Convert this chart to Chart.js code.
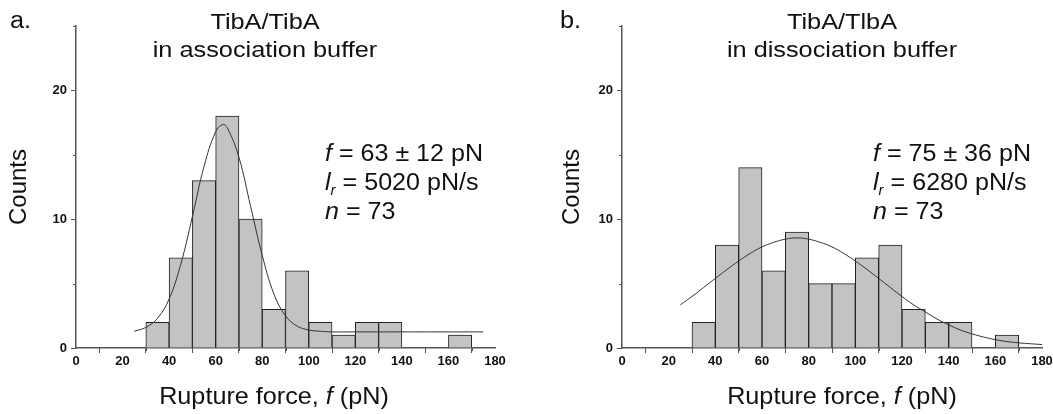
<!DOCTYPE html>
<html>
<head>
<meta charset="utf-8">
<script src="https://cdn.jsdelivr.net/npm/chart.js@4.4.1/dist/chart.umd.min.js"></script>
<style>
  html, body { margin: 0; padding: 0; background: #fff; }
  #wrap { position: relative; width: 1053px; height: 414px; overflow: hidden; }
  .panel { position: absolute; top: 0; }
  #panelA { left: 0; }
  #panelB { left: 530px; }
</style>
</head>
<body>
<div id="wrap">
  <div class="panel" id="panelA"><canvas id="chartA" width="530" height="414"></canvas></div>
  <div class="panel" id="panelB"><canvas id="chartB" width="523" height="414"></canvas></div>
</div>
<script>
// histogram bins, 10 pN wide
const binCenters = [35, 45, 55, 65, 75, 85, 95, 105, 115, 125, 135, 145, 155, 165];
const countsA = [2, 7, 13, 18, 10, 3, 6, 2, 1, 2, 2, 0, 0, 1];
const countsB = [2, 8, 14, 6, 9, 5, 5, 7, 8, 3, 2, 2, 0, 1];

// gaussian fit curves
const fitForceA = [25, 30, 35, 40, 45, 50, 55, 60, 63, 65, 70, 75, 80, 85, 90, 95, 100, 105, 110, 120, 130, 140, 150, 160, 175];
const fitCountsA = [1.3, 1.6, 2.3, 3.8, 6.5, 10.2, 14.1, 16.8, 17.35, 17.1, 14.8, 11.0, 7.2, 4.2, 2.5, 1.7, 1.4, 1.3, 1.25, 1.25, 1.25, 1.25, 1.25, 1.25, 1.25];
const fitForceB = [25, 30, 35, 40, 45, 50, 55, 60, 65, 70, 75, 80, 85, 90, 95, 100, 105, 110, 115, 120, 125, 130, 135, 140, 145, 150, 155, 160, 165, 170, 175, 180];
const fitCountsB = [3.35, 4.0, 4.7, 5.4, 6.1, 6.75, 7.35, 7.85, 8.2, 8.45, 8.55, 8.45, 8.2, 7.85, 7.35, 6.75, 6.1, 5.4, 4.7, 4.0, 3.35, 2.8, 2.25, 1.8, 1.4, 1.1, 0.85, 0.65, 0.5, 0.4, 0.33, 0.27];

const xMajorTicks = [0, 20, 40, 60, 80, 100, 120, 140, 160, 180];
const yMajorTicks = [0, 10, 20];

const FONT = '"Liberation Sans", Arial, sans-serif';
const INK = '#111';
const AXIS = '#555';

// the source figure is a little stretched sideways, so text gets a width factor
function drawRuns(ctx, runs, x, y, size, sx) {
    for (const r of runs) {
        const s = r.sub ? Math.round(size * 0.62) : size;
        ctx.font = (r.it ? 'italic ' : '') + s + 'px ' + FONT;
        ctx.save();
        ctx.translate(x, y + (r.sub ? size * 0.22 : 0));
        ctx.scale(sx, 1);
        ctx.fillText(r.t, 0, 0);
        ctx.restore();
        x += ctx.measureText(r.t).width * sx;
    }
}

function runsWidth(ctx, runs, size, sx) {
    let w = 0;
    for (const r of runs) {
        const s = r.sub ? Math.round(size * 0.62) : size;
        ctx.font = (r.it ? 'italic ' : '') + s + 'px ' + FONT;
        w += ctx.measureText(r.t).width * sx;
    }
    return w;
}

function textPlugin(cfg) {
    return {
        id: 'panelText',
        afterDraw(chart) {
            const ctx = chart.ctx;
            const xs = chart.scales.x, ys = chart.scales.y;
            ctx.save();

            // minor ticks
            ctx.strokeStyle = AXIS;
            ctx.lineWidth = 1;
            ctx.beginPath();
            for (let v = 10; v < 180; v += 20) {
                const px = Math.round(xs.getPixelForValue(v)) + 0.5;
                ctx.moveTo(px, xs.top);
                ctx.lineTo(px, xs.top + 3);
            }
            for (let v = 5; v <= 25; v += 10) {
                const py = Math.round(ys.getPixelForValue(v)) + 0.5;
                ctx.moveTo(ys.right, py);
                ctx.lineTo(ys.right - 3, py);
            }
            ctx.stroke();

            ctx.fillStyle = INK;
            ctx.textBaseline = 'alphabetic';
            ctx.textAlign = 'left';

            // panel letter
            drawRuns(ctx, [{ t: cfg.letter }], cfg.letterX, 28, 23, 1.1);

            // title, two centred lines
            cfg.title.forEach((line, i) => {
                const runs = [{ t: line }];
                const w = runsWidth(ctx, runs, 22, 1.15);
                drawRuns(ctx, runs, cfg.titleX - w / 2, 29 + i * 28, 22, 1.15);
            });

            // stats
            const stats = [
                [{ t: 'f', it: true }, { t: ' = ' + cfg.mean + ' \u00b1 ' + cfg.sd + ' pN' }],
                [{ t: 'l', it: true }, { t: 'r', it: true, sub: true }, { t: ' = ' + cfg.rate + ' pN/s' }],
                [{ t: 'n', it: true }, { t: ' = ' + cfg.n }]
            ];
            const base = [161, 190, 219];
            stats.forEach((runs, i) => drawRuns(ctx, runs, cfg.statsX, base[i], 23, 1.09));

            // x axis title
            const xt = [{ t: 'Rupture force, ' }, { t: 'f', it: true }, { t: ' (pN)' }];
            const w = runsWidth(ctx, xt, 24, 1.05);
            drawRuns(ctx, xt, cfg.xTitleX - w / 2, 404, 24, 1.05);

            ctx.restore();
        }
    };
}

function makeChart(id, counts, fitX, fitY, box, cfg) {
    const bars = binCenters.map((c, i) => ({ x: c, y: counts[i] }));
    const fit = fitX.map((f, i) => ({ x: f, y: fitY[i] }));

    return new Chart(document.getElementById(id), {
        type: 'bar',
        data: {
            datasets: [
                {
                    type: 'line',
                    data: fit,
                    borderColor: '#333',
                    borderWidth: 1,
                    pointRadius: 0,
                    tension: 0.4,
                    fill: false,
                    order: 0
                },
                {
                    data: bars,
                    backgroundColor: '#c3c3c3',
                    borderColor: '#222',
                    borderWidth: 1,
                    borderSkipped: 'bottom',
                    barPercentage: 1,
                    categoryPercentage: 1,
                    order: 1
                }
            ]
        },
        options: {
            responsive: false,
            animation: false,
            layout: { padding: { left: 0, right: box.right, top: 26, bottom: 0 } },
            plugins: { legend: { display: false }, tooltip: { enabled: false } },
            scales: {
                x: {
                    type: 'linear',
                    min: 0,
                    max: 180,
                    offset: false,
                    afterBuildTicks: s => { s.ticks = xMajorTicks.map(v => ({ value: v })); },
                    afterFit: s => { s.height = 66; s.paddingLeft = 0; s.paddingRight = 0; },
                    border: { display: true, color: AXIS, width: 1.5 },
                    grid: { drawOnChartArea: false, tickLength: 5, tickColor: AXIS },
                    ticks: {
                        color: INK,
                        padding: 1,
                        maxRotation: 0,
                        autoSkip: false,
                        font: { family: FONT, size: 13, weight: 'bold' }
                    }
                },
                y: {
                    min: 0,
                    max: 25,
                    afterBuildTicks: s => { s.ticks = yMajorTicks.map(v => ({ value: v })); },
                    afterFit: s => { s.width = box.yWidth; s.paddingTop = 0; s.paddingBottom = 0; },
                    border: { display: true, color: AXIS, width: 1.5 },
                    grid: { drawOnChartArea: false, tickLength: 5, tickColor: AXIS },
                    title: {
                        display: true,
                        text: 'Counts',
                        color: INK,
                        padding: { top: box.titlePad, bottom: 0 },
                        font: { family: FONT, size: 24 }
                    },
                    ticks: {
                        color: INK,
                        padding: 4,
                        font: { family: FONT, size: 13, weight: 'bold' }
                    }
                }
            }
        },
        plugins: [textPlugin(cfg)]
    });
}

makeChart('chartA', countsA, fitForceA, fitCountsA,
    { right: 35, yWidth: 76, titlePad: 5 },
    { letter: 'a.', letterX: 10, title: ['TibA/TibA', 'in association buffer'], titleX: 265,
      mean: 63, sd: 12, rate: 5020, n: 73, statsX: 325, xTitleX: 274 });

makeChart('chartB', countsB, fitForceB, fitCountsB,
    { right: 11, yWidth: 92, titlePad: 28 },
    { letter: 'b.', letterX: 30, title: ['TibA/TlbA', 'in dissociation buffer'], titleX: 312,
      mean: 75, sd: 36, rate: 6280, n: 73, statsX: 343, xTitleX: 312 });
</script>
</body>
</html>
